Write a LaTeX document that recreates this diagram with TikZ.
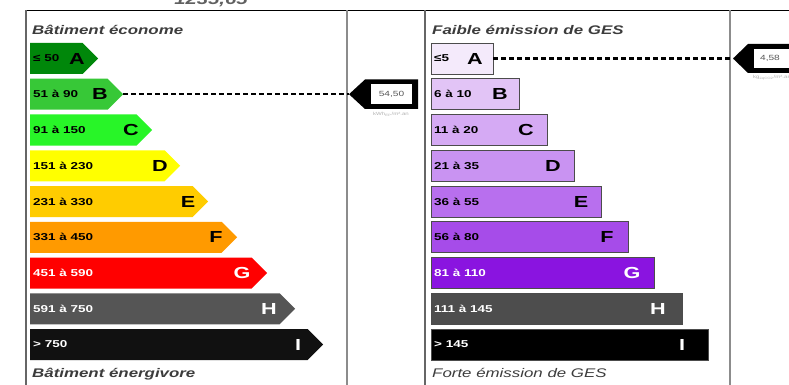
\documentclass[tikz,border=0pt]{standalone}
\usepackage{fontspec}
\setmainfont{Liberation Sans}
\usepackage{graphicx}
\newcommand\sx[1]{\scalebox{1.35}[1]{#1}}
\definecolor{lA}{RGB}{0,135,10}
\definecolor{lB}{RGB}{55,200,55}
\definecolor{lC}{RGB}{40,245,40}
\definecolor{lD}{RGB}{255,255,0}
\definecolor{lE}{RGB}{255,204,0}
\definecolor{lF}{RGB}{255,154,0}
\definecolor{lG}{RGB}{255,0,0}
\definecolor{lH}{RGB}{85,85,85}
\definecolor{lI}{RGB}{17,17,17}
\definecolor{rA}{RGB}{244,234,251}
\definecolor{rB}{RGB}{226,196,246}
\definecolor{rC}{RGB}{213,170,244}
\definecolor{rD}{RGB}{201,147,242}
\definecolor{rE}{RGB}{184,111,238}
\definecolor{rF}{RGB}{166,76,233}
\definecolor{rG}{RGB}{138,20,224}
\definecolor{rH}{RGB}{77,77,77}
\definecolor{rI}{RGB}{0,0,0}
\definecolor{ttlgray}{RGB}{60,60,60}
\definecolor{framegray}{RGB}{140,140,140}
\begin{document}
\begin{tikzpicture}[x=1pt,y=-1pt,
  rngtext/.style={anchor=west, inner sep=0, font=\fontsize{10}{12}\selectfont\bfseries},
  lettertext/.style={inner sep=0, font=\fontsize{16}{18}\selectfont\bfseries},
  ttl/.style={anchor=base west, inner sep=0, text=ttlgray, font=\fontsize{12.5}{15}\selectfont\bfseries\itshape},
  ttlthin/.style={anchor=base west, inner sep=0, text=ttlgray, font=\fontsize{12.5}{15}\selectfont\itshape},
  frameline/.style={line width=1.5pt, draw=framegray},
  dashline/.style={line width=2.3pt, dash pattern=on 5pt off 3pt},
  markval/.style={inner sep=0, text=gray!70!black, font=\fontsize{7.5}{9}\selectfont},
  tinytext/.style={inner sep=0, text=gray!60, font=\fontsize{4.5}{5}\selectfont}]
\useasboundingbox (0,0) rectangle (789,385);
\fill[white] (0,0) rectangle (789,385);
% top value (cut off)
\node[anchor=base, inner sep=0, text=gray!75!black, font=\fontsize{15}{18}\selectfont\bfseries\itshape] (topval) at (211,5) {\sx{1235,65}};
% frame
\draw[line width=1.8pt, black] (26,10.5) -- (789,10.5);
\draw[frameline, draw=gray!80!black] (26,10.5) -- (26,385);
\draw[frameline] (347,10.5) -- (347,385);
\draw[frameline, draw=gray!80!black] (425,10.5) -- (425,385);
\draw[frameline] (730,10.5) -- (730,385);
% titles
\node[ttl] (t1) at (32,35) {\sx{Bâtiment économe}};
\node[ttl] (t2) at (32,377) {\sx{Bâtiment énergivore}};
\node[ttl] (t3) at (432,35) {\sx{Faible émission de GES}};
\node[ttlthin] (t4) at (432,377) {\sx{Forte émission de GES}};
% left bars
\foreach \i/\tip/\lx/\col/\txt/\rg/\lt in {
  0/98/77/lA/black/≤ 50/A,
  1/123/100/lB/black/51 à 90/B,
  2/152/131/lC/black/91 à 150/C,
  3/180/160/lD/black/151 à 230/D,
  4/208/188/lE/black/231 à 330/E,
  5/237/216/lF/black/331 à 450/F,
  6/267/242/lG/white/451 à 590/G,
  7/295/269/lH/white/591 à 750/H,
  8/323/298/lI/white/> 750/I}{
  \pgfmathsetmacro\yt{43+35.75*\i}
  \fill[\col] (30,\yt) -- (\tip-15.5,\yt) -- (\tip,\yt+15.5) -- (\tip-15.5,\yt+31) -- (30,\yt+31) -- cycle;
  \coordinate (ltip\lt) at (\tip,\yt+15.5);
  \node[rngtext, text=\txt] (lr\lt) at (33,\yt+15.5) {\sx{\rg}};
  \node[lettertext, text=\txt] (ll\lt) at (\lx,\yt+15.5) {\sx{\lt}};
}
% right bars
\foreach \i/\re/\lx/\col/\txt/\rg/\lt in {
  0/493/475/rA/black/≤5/A,
  1/519/500/rB/black/6 à 10/B,
  2/547/526/rC/black/11 à 20/C,
  3/574/553/rD/black/21 à 35/D,
  4/601/581/rE/black/36 à 55/E,
  5/628/607/rF/black/56 à 80/F,
  6/654/632/rG/white/81 à 110/G,
  7/682/658/rH/white/111 à 145/H,
  8/708/682/rI/white/> 145/I}{
  \pgfmathsetmacro\yt{43+35.75*\i}
  \filldraw[fill=\col, draw=gray!60!black, line width=0.8pt] (431,\yt) rectangle (\re,\yt+31);
  \coordinate (rend\lt) at (\re,\yt+15.5);
  \node[rngtext, text=\txt] (rr\lt) at (434,\yt+15.5) {\sx{\rg}};
  \node[lettertext, text=\txt] (rl\lt) at (\lx,\yt+15.5) {\sx{\lt}};
}
% left marker
\coordinate (lm) at (349,94.25);
\fill[black] (lm) -- (365,79.5) -- (418,79.5) -- (418,109) -- (365,109) -- cycle;
\fill[white] (371,84.5) rectangle (412,104);
\node[markval] (lmv) at (391.5,94.25) {\sx{54,50}};
\node[tinytext] (lmu) at (391,114) {\sx{kWh\textsubscript{EP}/m².an}};
\draw[dashline] (ltipB) -- (lm);
% right marker
\coordinate (rm) at (733,58.5);
\fill[black] (rm) -- (748,44) -- (800,44) -- (800,73) -- (748,73) -- cycle;
\fill[white] (754,49) rectangle (800,68);
\node[markval] (rmv) at (770,58.5) {\sx{4,58}};
\node[tinytext] (rmu) at (772,78) {\sx{kg\textsubscript{éqCO2}/m².an}};
\draw[dashline] (rendA) -- (rm);
\end{tikzpicture}
\end{document}
